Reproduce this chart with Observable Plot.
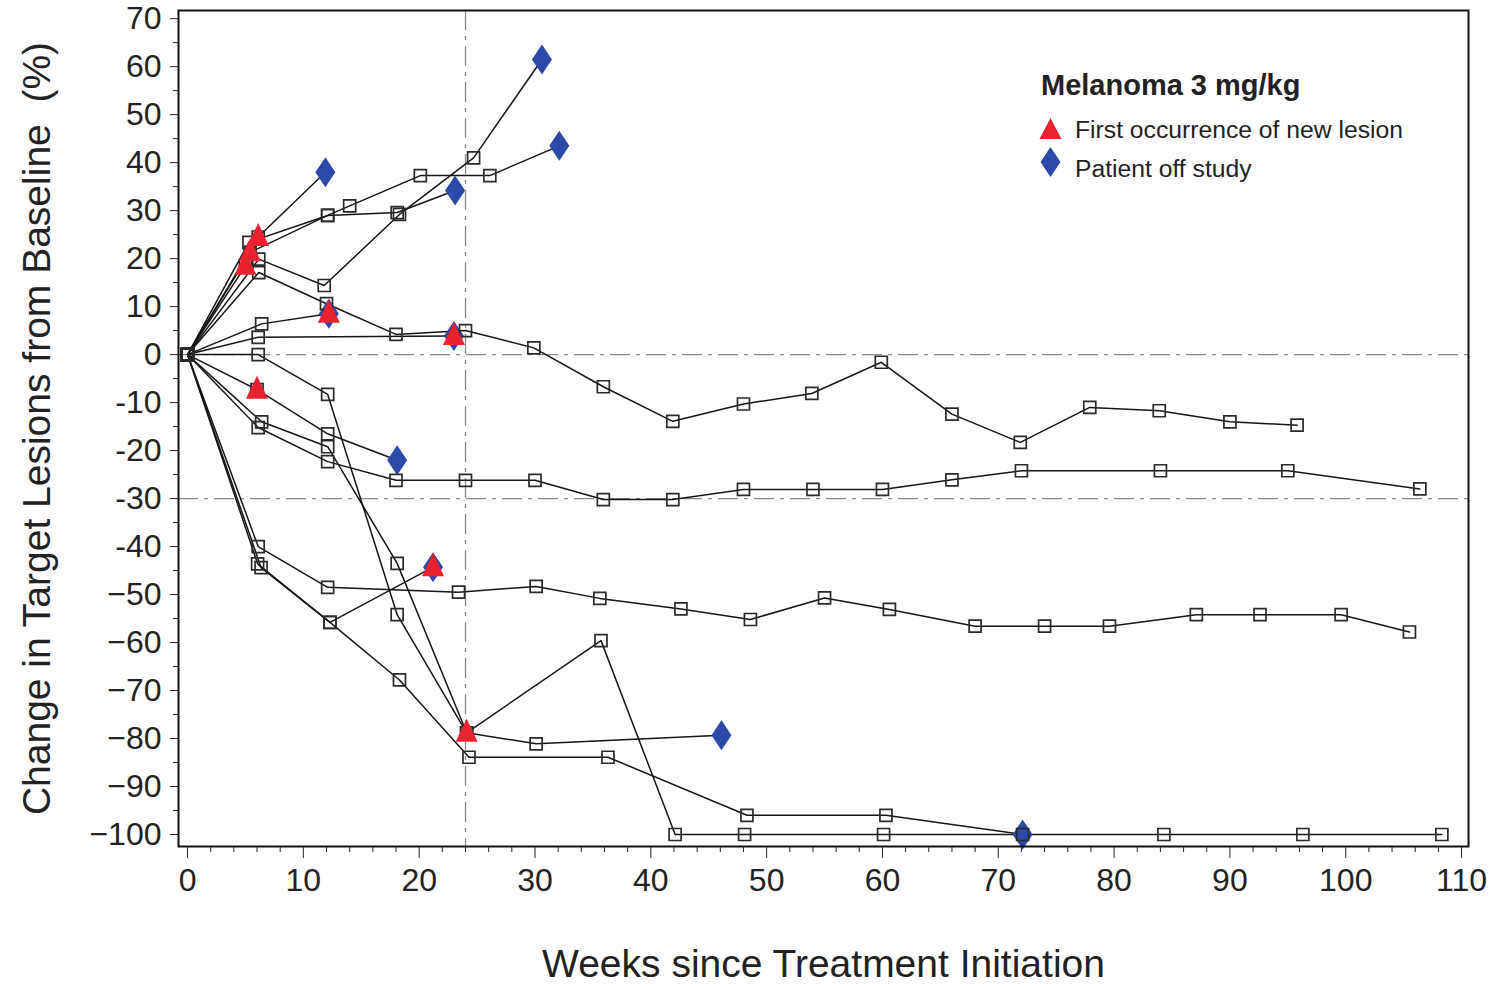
<!DOCTYPE html>
<html>
<head>
<meta charset="utf-8">
<script src="https://cdn.jsdelivr.net/npm/d3@7"></script>
<script src="https://cdn.jsdelivr.net/npm/@observablehq/plot@0.6"></script>
<style>
  html, body { margin: 0; padding: 0; background: #fff; }
  #wrap { position: relative; width: 1495px; height: 984px; font-family: "Liberation Sans", Arial, Helvetica, sans-serif; color: #222; }
  .leg { position: absolute; line-height: 1; white-space: nowrap; color: #222; }
  .legsym { position: absolute; }
</style>
</head>
<body>
<div id="wrap"></div>
<script>
// ---------- data: [week, % change from baseline] per patient ----------
const P01 = [[0,0],[6.1,24.5],[11.9,38]];
const P02 = [[0,0],[5.3,23.4],[12.1,29],[14,31],[20.1,37.3],[26.1,37.3],[32.1,43.5]];
const P03 = [[0,0],[5.4,21.3],[12.1,29],[18.1,29.6],[23.1,34.2]];
const P04 = [[0,0],[6.15,19.9],[11.8,14.4],[18.3,29.2],[24.7,41],[30.6,61.5]];
const P05 = [[0,0],[6.15,17.1],[12,10.6],[18,4.2],[24,5],[29.9,1.4],[35.9,-6.7],[41.9,-13.9],[48,-10.3],[53.9,-8.1],[59.9,-1.6],[66,-12.4],[71.9,-18.3],[77.9,-11],[83.9,-11.7],[90,-14],[95.8,-14.7]];
const P06 = [[0,0],[5,18.5]];
const P07 = [[0,0],[6.4,6.4],[12.2,8.5]];
const P08 = [[0,0],[6.1,3.6],[23,3.9]];
const P09 = [[0,0],[6.1,-40],[12.1,-48.5],[23.4,-49.5],[30.1,-48.3],[35.6,-50.8],[42.6,-53],[48.6,-55.2],[55,-50.7],[60.6,-53.1],[68,-56.6],[74,-56.6],[79.6,-56.6],[87.1,-54.2],[92.6,-54.2],[99.6,-54.2],[105.5,-57.8]];
const P10 = [[0,0],[6.05,-43.6],[12.3,-55.8],[21.2,-44.3]];
const P11 = [[0,0],[6.35,-44.4],[12.3,-55.8],[18.3,-67.8],[24.3,-83.9],[36.3,-83.9],[48.3,-96],[60.3,-96],[72.1,-100]];
const P12 = [[0,0],[6.1,0],[12.1,-8.3],[18.1,-54.2],[24.1,-78.8],[30.1,-81.1],[46.1,-79.3]];
const P13 = [[0,0],[6.4,-14],[12.1,-19.2],[18.1,-43.5],[24.1,-78.8],[35.7,-59.6],[42.1,-100],[48.1,-100],[60.1,-100],[72.1,-100],[84.3,-100],[96.3,-100],[108.3,-100]];
const P14 = [[0,0],[6.1,-15.2],[12.1,-22.3],[18,-26.2],[24,-26.2],[30,-26.2],[35.9,-30.2],[41.9,-30.2],[48,-28.1],[54,-28.1],[60,-28.1],[66,-26.1],[72,-24.2],[84,-24.2],[95,-24.2],[106.4,-28]];
const P15 = [[0,0],[6,-7.3],[12.1,-16.5],[18.1,-22]];

const patients = [P01, P02, P03, P04, P05, P06, P07, P08, P09, P10, P11, P12, P13, P14, P15];
// patients whose last assessment is marked "Patient off study"
const offStudyPatients = [P01, P02, P03, P04, P07, P08, P10, P11, P12, P15];
// first occurrence of new lesion
const newLesionPts = [[6.1,24.5],[5.4,21.3],[5,18.5],[12.2,8.5],[23,3.9],[6,-7.3],[21.2,-44.3],[24.1,-78.8]];

const refLinesY = [0, -30];
const refLinesX = [24];

const weekTicks = [0,10,20,30,40,50,60,70,80,90,100,110];
const weekMinorTicks = d3.range(0, 111, 2).filter(d => d % 10 !== 0);
const yTicks = [70,60,50,40,30,20,10,0,-10,-20,-30,-40,-50,-60,-70,-80,-90,-100];
const yTickLabels = ["70","60","50","40","30","20","10","0","-10","-20","-30","-40","\u221250","\u221260","\u221270","\u221280","\u221290","\u2212100"];
const yMinorTicks = d3.range(-95, 70, 10);

const xTitle = "Weeks since Treatment Initiation";
const yTitle = "Change in Target Lesions from Baseline\u00a0\u00a0(%)";
const legendTitle = "Melanoma 3 mg/kg";
const legendItems = ["First occurrence of new lesion", "Patient off study"];

const RED = "#e8232f";
const BLUE = "#2b49a6";

// ---------- derived tables ----------
const lineRows = patients.flatMap((pts, i) => pts.map(([w, v]) => ({id: i, week: w, change: v})));
const squareRows = patients.flatMap((pts, i) => {
  const off = offStudyPatients.includes(pts);
  return pts.filter((p, j) => !(off && j === pts.length - 1)).map(([w, v]) => ({week: w, change: v}));
});
const diamondRows = offStudyPatients.map(pts => { const [w, v] = pts[pts.length - 1]; return {week: w, change: v}; });
const triangleRows = newLesionPts.map(([w, v]) => ({week: w, change: v}));

// ---------- custom symbols ----------
const squareSym = {draw(c) { c.moveTo(-6,-6); c.lineTo(6,-6); c.lineTo(6,6); c.lineTo(-6,6); c.closePath(); }};
const triSym = {draw(c) { c.moveTo(0,-14); c.lineTo(11,9); c.lineTo(-11,9); c.closePath(); }};
const diaSym = {draw(c) { c.moveTo(0,-15); c.lineTo(10,0); c.lineTo(0,15); c.lineTo(-10,0); c.closePath(); }};

const chart = Plot.plot({
  width: 1495,
  height: 984,
  marginLeft: 178,
  marginRight: 27,
  marginTop: 10,
  marginBottom: 138,
  x: {domain: [-0.78, 110.6], label: null},
  y: {domain: [-102.5, 71.7], label: null},
  style: {fontFamily: '"Liberation Sans", Arial, Helvetica, sans-serif', color: "#222", background: "white", overflow: "visible"},
  marks: [
    Plot.ruleY(refLinesY, {stroke: "#8a8a8a", strokeWidth: 1.3, strokeDasharray: "20,6,4,6"}),
    Plot.ruleX(refLinesX, {stroke: "#8a8a8a", strokeWidth: 1.3, strokeDasharray: "20,6,4,6"}),
    Plot.line(lineRows, {x: "week", y: "change", z: "id", stroke: "#151515", strokeWidth: 1.5}),
    Plot.dot(diamondRows, {x: "week", y: "change", symbol: diaSym, fill: BLUE, stroke: "none"}),
    Plot.dot(squareRows, {x: "week", y: "change", symbol: squareSym, fill: "none", stroke: "#2a2a2a", strokeWidth: 1.7}),
    Plot.dot(triangleRows, {x: "week", y: "change", symbol: triSym, fill: RED, stroke: "none"}),
    Plot.frame({stroke: "#111", strokeWidth: 2}),
    Plot.axisX({ticks: weekTicks, tickSize: 12, tickPadding: 10, fontSize: 32, tickFormat: d => String(d), label: null}),
    Plot.axisX({ticks: weekMinorTicks, tickSize: 6, tickFormat: () => "", label: null}),
    Plot.axisY({ticks: yTicks, tickSize: 8, tickPadding: 9, fontSize: 32, tickFormat: d => yTickLabels[yTicks.indexOf(d)], label: null}),
    Plot.axisY({ticks: yMinorTicks, tickSize: 5, tickFormat: () => "", label: null}),
    Plot.text([xTitle], {text: d => d, frameAnchor: "bottom", dy: 118, fontSize: 39, lineAnchor: "middle", textAnchor: "middle"}),
    Plot.text([yTitle], {text: d => d, frameAnchor: "left", dx: -141, rotate: -90, fontSize: 39, lineAnchor: "middle", textAnchor: "middle"})
  ]
});

const wrap = document.getElementById("wrap");
wrap.appendChild(chart);

// ---------- legend (inside plot area, top right) ----------
const leg = document.createElement("div");
leg.innerHTML = `
  <div class="leg" style="left:1041px;top:71px;font-size:29px;font-weight:bold">${legendTitle}</div>
  <svg class="legsym" style="left:1039px;top:118px" width="23" height="21"><path d="M11.5,0L22.5,21H0.5Z" fill="${RED}"/></svg>
  <div class="leg" style="left:1075px;top:118px;font-size:24.7px">${legendItems[0]}</div>
  <svg class="legsym" style="left:1039px;top:147px" width="23" height="31"><path d="M11.5,0L21.5,15L11.5,30L1.5,15Z" fill="${BLUE}"/></svg>
  <div class="leg" style="left:1075px;top:157px;font-size:24.7px">${legendItems[1]}</div>
`;
wrap.appendChild(leg);
</script>
</body>
</html>
